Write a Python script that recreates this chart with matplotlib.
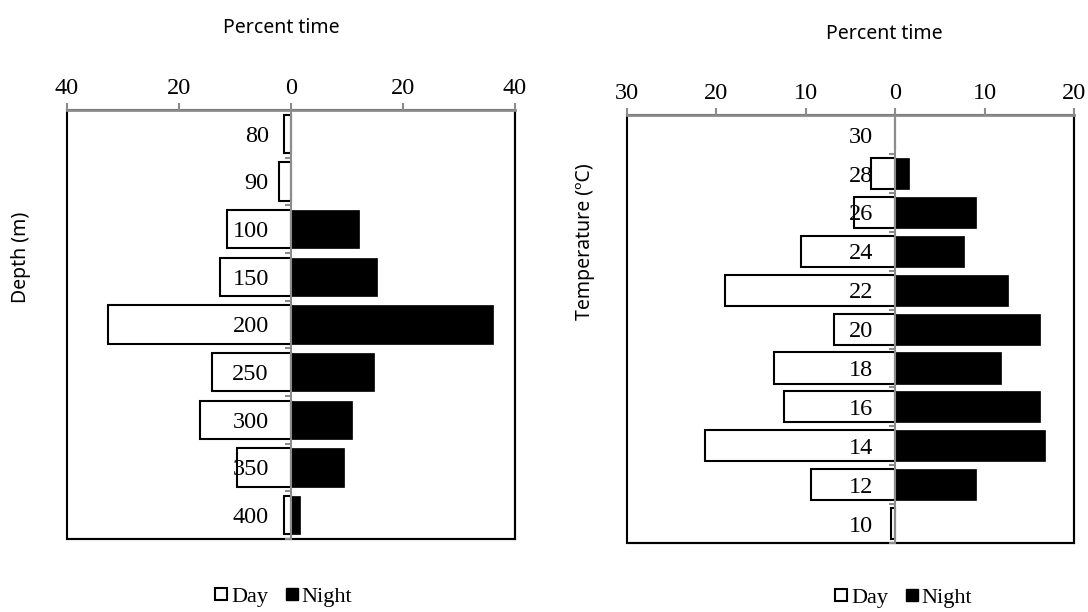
import matplotlib.pyplot as plt
from matplotlib.lines import Line2D
from matplotlib.patches import Rectangle

# depth panel
depth = ["80", "90", "100", "150", "200", "250", "300", "350", "400"]
depth_day = [1.2, 2.1, 11.4, 12.6, 32.6, 14.1, 16.3, 9.6, 1.2]
depth_night = [0, 0, 12.2, 15.4, 36.0, 14.9, 10.9, 9.5, 1.6]

# temperature panel
temp = ["30", "28", "26", "24", "22", "20", "18", "16", "14", "12", "10"]
temp_day = [0, 2.75, 4.6, 10.5, 19.0, 6.9, 13.6, 12.4, 21.3, 9.4, 0.5]
temp_night = [0, 1.5, 9.0, 7.7, 12.6, 16.2, 11.8, 16.2, 16.8, 9.0, 0]

serif = "Liberation Serif"
sans = "Noto Sans"
gray = "#8c8c8c"

fig = plt.figure(figsize=(10.88, 6.12), dpi=100)


def panel(rect, cats, day, night, xmin, xmax, step):
    ax = fig.add_axes(rect)
    ax.set_axisbelow(False)
    n = len(cats)
    y = list(range(n))
    ax.barh(y, [-d for d in day], height=0.8, color="white", edgecolor="black", linewidth=1.5, zorder=2)
    ax.barh(y, night, height=0.8, color="black", edgecolor="black", linewidth=0.5, zorder=2)
    ax.set_xlim(xmin, xmax)
    ax.set_ylim(n - 0.5, -0.5)

    # value axis on top
    ax.xaxis.tick_top()
    ticks = list(range(xmin, xmax + 1, step))
    ax.set_xticks(ticks)
    ax.set_xticklabels([str(abs(t)) for t in ticks], fontfamily=serif, fontsize=17.5)
    ax.tick_params(axis="x", colors=gray, labelcolor="black", length=5, width=1.5, pad=3)

    # category axis on the zero line
    ax.spines["left"].set_position(("data", 0))
    ax.spines["left"].set_color(gray)
    ax.spines["left"].set_linewidth(1.5)
    ax.spines["left"].set_zorder(3)
    ax.set_yticks([i + 0.5 for i in range(n)])
    ax.set_yticklabels([])
    ax.set_yticks(y, minor=True)
    ax.set_yticklabels(cats, minor=True, fontfamily=serif, fontsize=17.5)
    ax.tick_params(axis="y", which="major", colors=gray, length=4, width=1.5)
    ax.tick_params(axis="y", which="minor", length=0, pad=16)

    ax.spines["top"].set_color(gray)
    ax.spines["top"].set_linewidth(2)
    ax.spines["top"].set_zorder(4)
    for s in ["right", "bottom"]:
        ax.spines[s].set_color("black")
        ax.spines[s].set_linewidth(1.5)
    ax.add_patch(Rectangle((0, 0), 1, 1, transform=ax.transAxes, fill=False,
                           edgecolor="black", linewidth=1.5, clip_on=False, zorder=1))
    return ax


ax1 = panel([0.0616, 0.1193, 0.4118, 0.701], depth, depth_day, depth_night, -40, 40, 20)
ax2 = panel([0.5763, 0.1127, 0.4108, 0.699], temp, temp_day, temp_night, -30, 20, 10)

fig.text(0.259, 0.955, "Percent time", fontfamily=sans, fontsize=14, ha="center", va="center")
fig.text(0.813, 0.944, "Percent time", fontfamily=sans, fontsize=14, ha="center", va="center")
fig.text(0.019, 0.58, "Depth (m)", fontfamily=sans, fontsize=14, rotation=90, ha="center", va="center")
fig.text(0.538, 0.605, "Temperature (ºC)", fontfamily=sans, fontsize=14, rotation=90, ha="center", va="center")

handles = [
    Line2D([], [], marker="s", linestyle="none", markersize=9, markerfacecolor="white",
           markeredgecolor="black", markeredgewidth=1.5, label="Day"),
    Line2D([], [], marker="s", linestyle="none", markersize=9, markerfacecolor="black",
           markeredgecolor="black", label="Night"),
]
for xc, yc in [(0.261, 0.025), (0.831, 0.023)]:
    fig.legend(handles=handles, loc="center", bbox_to_anchor=(xc, yc), ncol=2, frameon=False,
               prop={"family": serif, "size": 16}, handlelength=0.5, handletextpad=0.2,
               columnspacing=0.8, borderpad=0)

fig.savefig("out.png", dpi=100)
